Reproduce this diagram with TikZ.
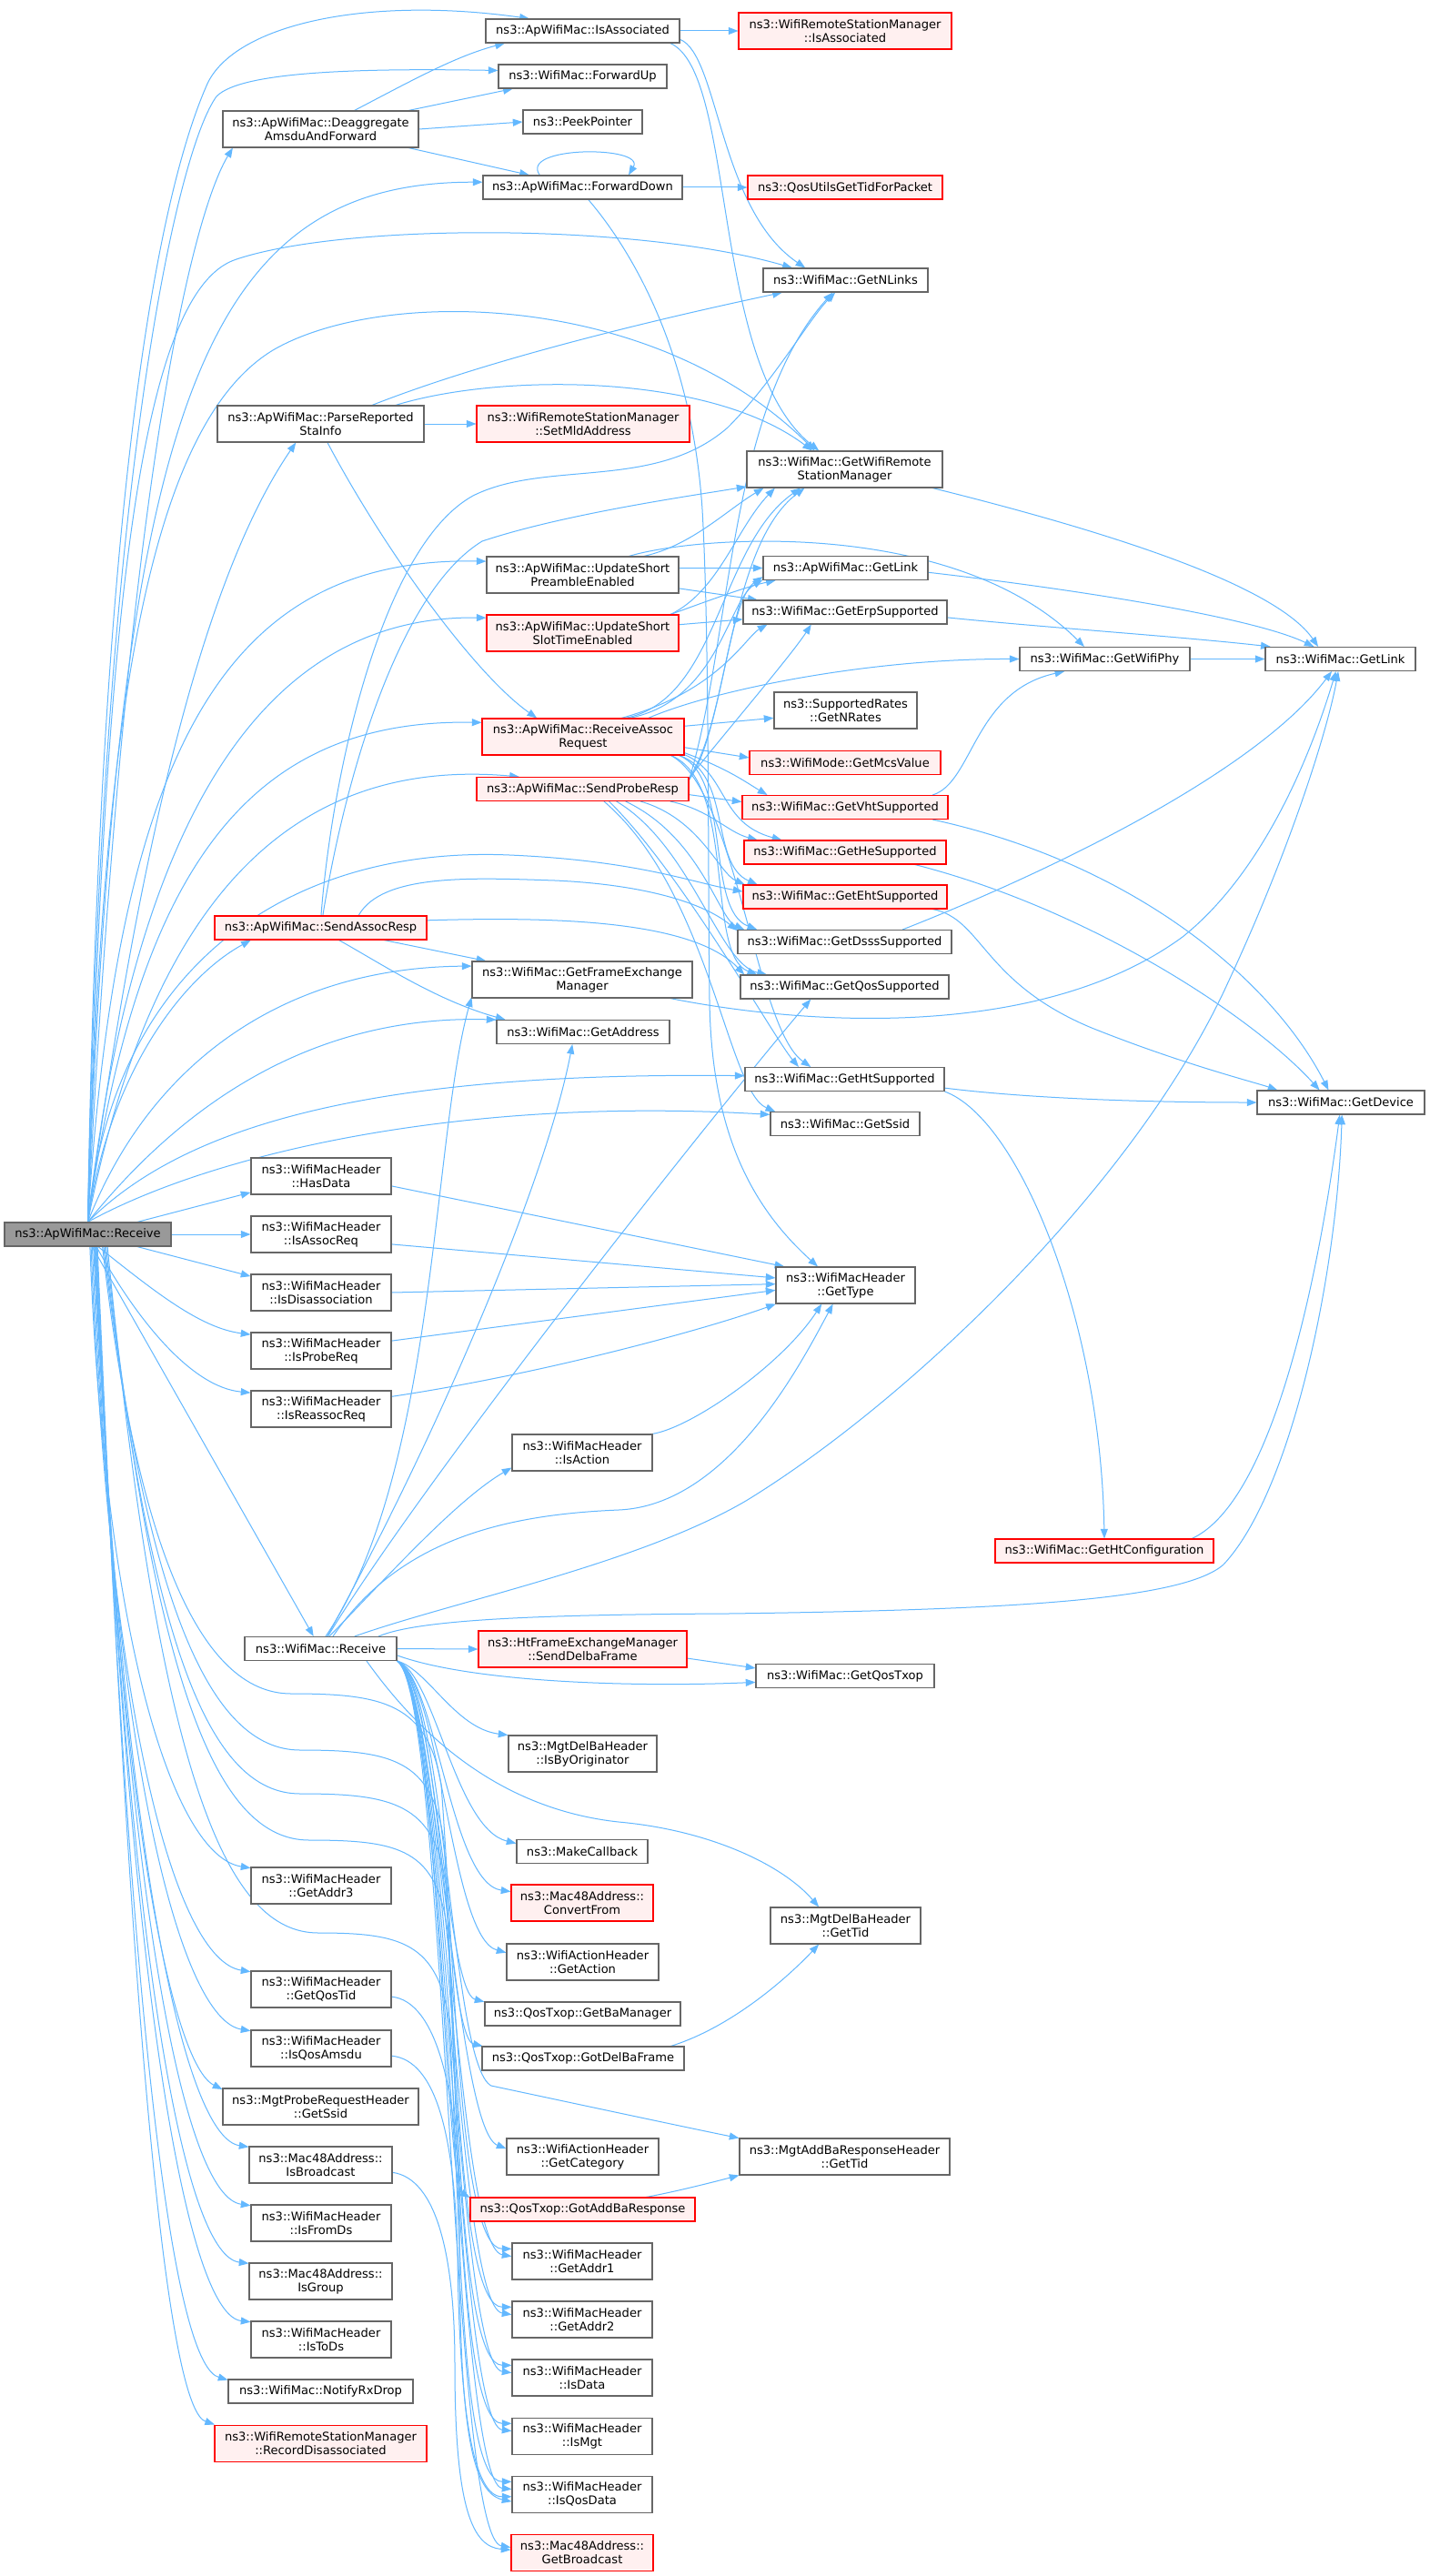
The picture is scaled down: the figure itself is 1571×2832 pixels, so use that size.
\documentclass[tikz,border=0pt]{standalone}
\usepackage{fontspec}
\newfontfamily\djv{DejaVu Sans}
\usetikzlibrary{arrows.meta}
\definecolor{edgeblue}{HTML}{63B8FF}
\definecolor{boxgray}{HTML}{666666}
\definecolor{redfill}{HTML}{FFF0F0}
\definecolor{rootgray}{HTML}{999999}
\pgfdeclarelayer{bg}
\pgfsetlayers{bg,main}
\tikzset{
  nd/.style={draw=boxgray, fill=white, line width=0.8pt, inner sep=0pt, align=center, font=\djv\fontsize{9.8}{11.3}\selectfont},
  rd/.style={nd, draw=red, fill=redfill},
  rt/.style={nd, fill=rootgray},
  sz/.style 2 args={minimum width=#1*0.75pt, minimum height=#2*0.75pt},
  edg/.style={draw=edgeblue, line width=0.75pt, -{Triangle[length=8pt,width=6pt]}},
}
\begin{document}
\begin{tikzpicture}[x=0.75pt,y=-0.75pt]
\useasboundingbox (0,0) rectangle (1571,2832);
% column A/B
\node[rt,sz={183}{26}] (R) at (96.5,1357) {ns3::ApWifiMac::Receive};
\node[nd,sz={215}{40}] (deagg) at (352.5,142) {ns3::ApWifiMac::Deaggregate\\AmsduAndForward};
\node[nd,sz={227}{40}] (parse) at (352.5,466) {ns3::ApWifiMac::ParseReported\\StaInfo};
\node[rd,sz={233}{26}] (sar) at (352.5,1020) {ns3::ApWifiMac::SendAssocResp};
\node[nd,sz={154}{40}] (hasdata) at (353,1293) {ns3::WifiMacHeader\\::HasData};
\node[nd,sz={154}{40}] (isassocreq) at (353,1357) {ns3::WifiMacHeader\\::IsAssocReq};
\node[nd,sz={154}{40}] (isdisassoc) at (353,1421) {ns3::WifiMacHeader\\::IsDisassociation};
\node[nd,sz={154}{40}] (isprobereq) at (353,1485) {ns3::WifiMacHeader\\::IsProbeReq};
\node[nd,sz={154}{40}] (isreassocreq) at (353,1549) {ns3::WifiMacHeader\\::IsReassocReq};
\node[nd,sz={167}{26}] (wr) at (352.5,1812.5) {ns3::WifiMac::Receive};
\node[nd,sz={154}{40}] (getaddr3) at (353,2073) {ns3::WifiMacHeader\\::GetAddr3};
\node[nd,sz={154}{40}] (getqostid) at (353,2187) {ns3::WifiMacHeader\\::GetQosTid};
\node[nd,sz={154}{40}] (isqosamsdu) at (353,2252) {ns3::WifiMacHeader\\::IsQosAmsdu};
\node[nd,sz={215}{40}] (mgtprobessid) at (352.5,2316) {ns3::MgtProbeRequestHeader\\::GetSsid};
\node[nd,sz={157}{40}] (isbroadcast) at (352.5,2380) {ns3::Mac48Address::\\IsBroadcast};
\node[nd,sz={154}{40}] (isfromds) at (353,2444) {ns3::WifiMacHeader\\::IsFromDs};
\node[nd,sz={157}{40}] (isgroup) at (352.5,2508) {ns3::Mac48Address::\\IsGroup};
\node[nd,sz={154}{40}] (istods) at (353,2572) {ns3::WifiMacHeader\\::IsToDs};
\node[nd,sz={203}{26}] (notifyrxdrop) at (352.5,2629) {ns3::WifiMac::NotifyRxDrop};
\node[rd,sz={233}{40}] (recorddisassoc) at (352.5,2686) {ns3::WifiRemoteStationManager\\::RecordDisassociated};
% column C
\node[nd,sz={213}{26}] (isassoc) at (640.5,34) {ns3::ApWifiMac::IsAssociated};
\node[nd,sz={185}{26}] (fwdup) at (640.5,84) {ns3::WifiMac::ForwardUp};
\node[nd,sz={131}{26}] (peek) at (640.5,134) {ns3::PeekPointer};
\node[nd,sz={219}{26}] (fwddown) at (640.5,206) {ns3::ApWifiMac::ForwardDown};
\node[rd,sz={234}{40}] (setmld) at (641,466) {ns3::WifiRemoteStationManager\\::SetMldAddress};
\node[nd,sz={211}{40}] (usp) at (640.5,632) {ns3::ApWifiMac::UpdateShort\\PreambleEnabled};
\node[rd,sz={211}{40}] (uss) at (640.5,696) {ns3::ApWifiMac::UpdateShort\\SlotTimeEnabled};
\node[rd,sz={222}{40}] (rar) at (641,810) {ns3::ApWifiMac::ReceiveAssoc\\Request};
\node[rd,sz={233}{26}] (spr) at (640.5,867.5) {ns3::ApWifiMac::SendProbeResp};
\node[nd,sz={242}{40}] (gfem) at (640,1077) {ns3::WifiMac::GetFrameExchange\\Manager};
\node[nd,sz={190}{26}] (getaddress) at (641,1134.5) {ns3::WifiMac::GetAddress};
\node[nd,sz={154}{40}] (isaction) at (640,1597) {ns3::WifiMacHeader\\::IsAction};
\node[rd,sz={229}{40}] (senddelba) at (640.5,1813) {ns3::HtFrameExchangeManager\\::SendDelbaFrame};
\node[nd,sz={163}{40}] (isbyorig) at (640.5,1928) {ns3::MgtDelBaHeader\\::IsByOriginator};
\node[nd,sz={144}{26}] (makecb) at (640,2035.5) {ns3::MakeCallback};
\node[rd,sz={156}{40}] (convertfrom) at (640,2092) {ns3::Mac48Address::\\ConvertFrom};
\node[nd,sz={167}{40}] (getaction) at (640.5,2157) {ns3::WifiActionHeader\\::GetAction};
\node[nd,sz={215}{26}] (getbaman) at (640.5,2214) {ns3::QosTxop::GetBaManager};
\node[nd,sz={222}{26}] (gotdelba) at (641,2263) {ns3::QosTxop::GotDelBaFrame};
\node[nd,sz={167}{40}] (getcategory) at (640.5,2371) {ns3::WifiActionHeader\\::GetCategory};
\node[rd,sz={247}{26}] (gotaddba) at (640.5,2429) {ns3::QosTxop::GotAddBaResponse};
\node[nd,sz={154}{40}] (getaddr1) at (640,2486) {ns3::WifiMacHeader\\::GetAddr1};
\node[nd,sz={154}{40}] (getaddr2) at (640,2550) {ns3::WifiMacHeader\\::GetAddr2};
\node[nd,sz={154}{40}] (isdata) at (640,2614) {ns3::WifiMacHeader\\::IsData};
\node[nd,sz={154}{40}] (ismgt) at (640,2678) {ns3::WifiMacHeader\\::IsMgt};
\node[nd,sz={154}{40}] (isqosdata) at (640,2742) {ns3::WifiMacHeader\\::IsQosData};
\node[rd,sz={156}{40}] (getbroadcast) at (640,2806) {ns3::Mac48Address::\\GetBroadcast};
% column D
\node[rd,sz={234}{40}] (wrsmisassoc) at (929,34) {ns3::WifiRemoteStationManager\\::IsAssociated};
\node[rd,sz={214}{26}] (qosutils) at (929,206) {ns3::QosUtilsGetTidForPacket};
\node[nd,sz={181}{26}] (getnlinks) at (929.5,308) {ns3::WifiMac::GetNLinks};
\node[nd,sz={215}{40}] (gwrsm) at (928.5,516) {ns3::WifiMac::GetWifiRemote\\StationManager};
\node[nd,sz={181}{26}] (apgetlink) at (929.5,624.5) {ns3::ApWifiMac::GetLink};
\node[nd,sz={224}{26}] (geterp) at (929,673) {ns3::WifiMac::GetErpSupported};
\node[nd,sz={157}{40}] (getnrates) at (929.5,781) {ns3::SupportedRates\\::GetNRates};
\node[rd,sz={210}{26}] (getmcs) at (929,838.5) {ns3::WifiMode::GetMcsValue};
\node[rd,sz={226}{26}] (getvht) at (929,887.5) {ns3::WifiMac::GetVhtSupported};
\node[rd,sz={222}{26}] (gethe) at (929,937) {ns3::WifiMac::GetHeSupported};
\node[rd,sz={224}{26}] (geteht) at (929,986) {ns3::WifiMac::GetEhtSupported};
\node[nd,sz={235}{26}] (getdsss) at (928.5,1035.5) {ns3::WifiMac::GetDsssSupported};
\node[nd,sz={229}{26}] (getqos) at (928.5,1085) {ns3::WifiMac::GetQosSupported};
\node[nd,sz={219}{26}] (getht) at (928.5,1186.5) {ns3::WifiMac::GetHtSupported};
\node[nd,sz={164}{26}] (getssid) at (929,1235.5) {ns3::WifiMac::GetSsid};
\node[nd,sz={153}{40}] (gettype) at (929.5,1413) {ns3::WifiMacHeader\\::GetType};
\node[nd,sz={196}{26}] (getqostxop) at (929,1842.5) {ns3::WifiMac::GetQosTxop};
\node[nd,sz={165}{40}] (delbagettid) at (929.5,2117) {ns3::MgtDelBaHeader\\::GetTid};
\node[nd,sz={231}{40}] (addbagettid) at (928.5,2371) {ns3::MgtAddBaResponseHeader\\::GetTid};
% columns E/F
\node[nd,sz={187}{26}] (getwifiphy) at (1214.5,724.5) {ns3::WifiMac::GetWifiPhy};
\node[rd,sz={240}{26}] (gethtconf) at (1214,1705) {ns3::WifiMac::GetHtConfiguration};
\node[nd,sz={165}{26}] (getlink) at (1473.5,724.5) {ns3::WifiMac::GetLink};
\node[nd,sz={184}{26}] (getdevice) at (1474,1212) {ns3::WifiMac::GetDevice};

\begin{pgfonlayer}{bg}
\fill[white] (0,0) rectangle (1571,2832);
% Deaggregate
\draw[edg] (R.north) .. controls (140,500) and (215,230) .. (deagg.-168);
\draw[edg] (deagg.29) .. controls (450,90) and (500,62) .. (isassoc.-171);
\draw[edg] (deagg.12) -- (fwdup.-170);
\draw[edg] (deagg.east) -- (peek.west);
\draw[edg] (deagg.-12) -- (fwddown.167);
% R upward
\draw[edg] (R.north) .. controls (110,500) and (180,200) .. (228,92) .. controls (258,28) and (400,-5) .. (isassoc.167);
\draw[edg] (R.north) .. controls (112,520) and (195,165) .. (238,106) .. controls (265,78) and (400,75) .. (fwdup.176);
\draw[edg] (R.north) .. controls (130,450) and (220,200) .. (fwddown.177);
\draw[edg] (R.north) .. controls (115,700) and (150,320) .. (260,285) .. controls (380,245) and (700,245) .. (getnlinks.167);
\draw[edg] (R.north) .. controls (150,950) and (220,640) .. (parse.-143);
\draw[edg] (R.north) .. controls (112,800) and (160,470) .. (300,385) .. controls (420,315) and (720,320) .. (gwrsm.148);
\draw[edg] (R.north) .. controls (130,820) and (250,612) .. (usp.172);
\draw[edg] (R.north) .. controls (150,880) and (300,676) .. (uss.171);
\draw[edg] (R.north) .. controls (150,960) and (270,790) .. (rar.172);
\draw[edg] (R.north) .. controls (160,1020) and (300,830) .. (spr.169);
\draw[edg] (R.north) .. controls (125,1050) and (330,930) .. (560,940) .. controls (700,946) and (760,970) .. (geteht.177);
\draw[edg] (R.north) .. controls (120,1180) and (200,1075) .. (sar.-170);
\draw[edg] (R.north) .. controls (160,1180) and (300,1064) .. (gfem.173);
\draw[edg] (R.north) .. controls (180,1240) and (320,1115) .. (getaddress.172);
\draw[edg] (R.north) .. controls (200,1240) and (400,1178) .. (getht.178);
\draw[edg] (R.north) .. controls (230,1270) and (500,1205) .. (getssid.173);
% R near
\draw[edg] (R.14) -- (hasdata.-167);
\draw[edg] (R.east) -- (isassocreq.west);
\draw[edg] (R.-14) -- (isdisassoc.167);
\draw[edg] (R.-50) .. controls (170,1420) and (220,1460) .. (isprobereq.167);
\draw[edg] (R.-55) .. controls (150,1450) and (210,1525) .. (isreassocreq.167);
\draw[edg] (R.-70) -- (wr.120);
% R downward
\draw[edg] (R.-80) .. controls (115,1800) and (190,2040) .. (getaddr3.166);
\draw[edg] (R.-75) .. controls (120,1900) and (195,2155) .. (getqostid.166);
\draw[edg] (R.-70) .. controls (125,1950) and (200,2220) .. (isqosamsdu.166);
\draw[edg] (R.-65) .. controls (130,2000) and (190,2270) .. (mgtprobessid.170);
\draw[edg] (R.-62) .. controls (135,2060) and (205,2350) .. (isbroadcast.166);
\draw[edg] (R.-60) .. controls (138,2120) and (205,2415) .. (isfromds.166);
\draw[edg] (R.-58) .. controls (140,2180) and (205,2480) .. (isgroup.166);
\draw[edg] (R.-56) .. controls (142,2240) and (210,2545) .. (istods.166);
\draw[edg] (R.-54) .. controls (145,2300) and (195,2600) .. (notifyrxdrop.173);
\draw[edg] (R.-52) .. controls (148,2350) and (190,2650) .. (recorddisassoc.170);
% R loops into the bundle
\draw[edg] (R.-40) .. controls (150,1700) and (220,1862) .. (320,1862) .. controls (420,1862) and (470,1872) .. (485,1962) .. controls (500,2162) and (505,2472) .. (getaddr1.170);
\draw[edg] (R.-38) .. controls (160,1760) and (230,1924) .. (330,1924) .. controls (430,1924) and (475,1934) .. (488,2024) .. controls (500,2224) and (505,2536) .. (getaddr2.170);
\draw[edg] (R.-36) .. controls (165,1810) and (230,1972) .. (330,1972) .. controls (430,1972) and (478,1982) .. (490,2072) .. controls (502,2272) and (505,2600) .. (isdata.170);
\draw[edg] (R.-34) .. controls (170,1860) and (240,2023) .. (340,2023) .. controls (440,2023) and (480,2033) .. (492,2123) .. controls (504,2323) and (505,2664) .. (ismgt.170);
\draw[edg] (R.-32) .. controls (175,1960) and (250,2125) .. (350,2125) .. controls (440,2125) and (482,2135) .. (494,2225) .. controls (506,2425) and (505,2728) .. (isqosdata.170);
% WifiMac::Receive
\draw[edg] (wr.east) -- (senddelba.west);
\draw[edg] (wr.-5) .. controls (520,1850) and (700,1855) .. (getqostxop.-176);
\draw[edg] (senddelba.-5) -- (getqostxop.175);
\draw[edg] (wr.55) .. controls (420,1740) and (500,1650) .. (isaction.-168);
\draw[edg] (isaction.15) .. controls (760,1570) and (860,1500) .. (gettype.-142);
\draw[edg] (wr.45) .. controls (440,1690) and (560,1665) .. (680,1660) .. controls (800,1655) and (880,1500) .. (gettype.-124);
\draw[edg] (wr.68) .. controls (480,1620) and (475,1250) .. (gfem.-171);
\draw[edg] (wr.62) .. controls (480,1580) and (600,1300) .. (getaddress.-131);
\draw[edg] (wr.60) .. controls (470,1620) and (780,1230) .. (getqos.-160);
\draw[edg] (wr.20) .. controls (500,1760) and (700,1720) .. (820,1650) .. controls (1000,1540) and (1250,1300) .. (1350,1080) .. controls (1420,930) and (1460,800) .. (getlink.-100);
\draw[edg] (wr.12) .. controls (460,1780) and (600,1775) .. (800,1774) .. controls (1100,1770) and (1300,1760) .. (1345,1720) .. controls (1420,1640) and (1470,1400) .. (getdevice.-85);
\draw[edg] (wr.south east) .. controls (470,1835) and (500,1900) .. (isbyorig.166);
\draw[edg] (wr.south east) .. controls (478,1840) and (500,2010) .. (makecb.173);
\draw[edg] (wr.south east) .. controls (480,1845) and (495,2070) .. (convertfrom.171);
\draw[edg] (wr.south east) .. controls (485,1850) and (495,2130) .. (getaction.173);
\draw[edg] (wr.south east) .. controls (480,1850) and (490,2190) .. (getbaman.173);
\draw[edg] (wr.south east) .. controls (485,1850) and (490,2240) .. (gotdelba.173);
\draw[edg] (wr.south east) .. controls (480,1850) and (500,2340) .. (getcategory.174);
\draw[edg] (wr.south east) .. controls (480,1850) and (490,2400) .. (gotaddba.174);
\draw[edg] (wr.south east) .. controls (490,1850) and (495,2270) .. (540,2293) .. controls (620,2310) and (760,2340) .. (addbagettid.170);
\draw[edg] (wr.-15) .. controls (470,1920) and (560,1990) .. (680,2003) .. controls (780,2012) and (860,2050) .. (delbagettid.145);
\draw[edg] (wr.south east) .. controls (490,1860) and (500,2470) .. (getaddr1.176);
\draw[edg] (wr.south east) .. controls (490,1860) and (500,2535) .. (getaddr2.176);
\draw[edg] (wr.south east) .. controls (490,1860) and (500,2600) .. (isdata.176);
\draw[edg] (wr.south east) .. controls (490,1860) and (500,2665) .. (ismgt.176);
\draw[edg] (wr.south east) .. controls (490,1860) and (500,2730) .. (isqosdata.176);
\draw[edg] (wr.south east) .. controls (490,1860) and (495,2790) .. (getbroadcast.176);
\draw[edg] (gotdelba.8) .. controls (800,2230) and (860,2180) .. (delbagettid.-145);
\draw[edg] (gotaddba.11) .. controls (740,2410) and (780,2400) .. (addbagettid.-170);
% header predicates -> GetType
\draw[edg] (hasdata.-8) -- (gettype.163);
\draw[edg] (isassocreq.-8) -- (gettype.174);
\draw[edg] (isdisassoc.east) -- (gettype.179);
\draw[edg] (isprobereq.8) -- (gettype.-176);
\draw[edg] (isreassocreq.10) .. controls (600,1510) and (780,1460) .. (gettype.-165);
\draw[edg] (getqostid.-6) .. controls (480,2200) and (505,2300) .. (505,2450) .. controls (505,2650) and (515,2740) .. (isqosdata.-174);
\draw[edg] (isqosamsdu.-6) .. controls (480,2265) and (500,2350) .. (503,2480) .. controls (505,2650) and (520,2745) .. (isqosdata.-178);
\draw[edg] (isbroadcast.-6) .. controls (480,2395) and (500,2480) .. (500,2600) .. controls (500,2760) and (520,2800) .. (getbroadcast.178);
% ParseReportedStaInfo
\draw[edg] (parse.east) -- (setmld.west);
\draw[edg] (parse.20) .. controls (550,390) and (750,345) .. (getnlinks.-169);
\draw[edg] (parse.14) .. controls (550,410) and (780,410) .. (gwrsm.150);
\draw[edg] (parse.-70) .. controls (420,600) and (520,740) .. (rar.158);
% IsAssociated
\draw[edg] (isassoc.east) -- (wrsmisassoc.west);
\draw[edg] (isassoc.-5) .. controls (790,60) and (790,230) .. (getnlinks.163);
\draw[edg] (isassoc.-8) .. controls (810,80) and (780,400) .. (gwrsm.144);
% ForwardDown
\draw[edg] (fwddown.164) .. controls (570,160) and (710,160) .. (fwddown.15);
\draw[edg] (fwddown.east) -- (qosutils.west);
\draw[edg] (fwddown.-65) .. controls (690,270) and (760,380) .. (772,560) .. controls (780,700) and (778,950) .. (780,1100) .. controls (782,1250) and (830,1330) .. (gettype.146);
% UpdateShortPreambleEnabled
\draw[edg] (usp.17) .. controls (760,600) and (800,560) .. (gwrsm.-167);
\draw[edg] (usp.22) .. controls (770,588) and (1050,570) .. (getwifiphy.149);
\draw[edg] (usp.4) -- (apgetlink.west);
\draw[edg] (usp.-8) -- (geterp.172);
% UpdateShortSlotTimeEnabled
\draw[edg] (uss.12) .. controls (790,650) and (810,580) .. (gwrsm.-165);
\draw[edg] (uss.12) .. controls (780,660) and (820,645) .. (apgetlink.-170);
\draw[edg] (uss.5) -- (geterp.-176);
% ReceiveAssocRequest
\draw[edg] (rar.24) .. controls (790,770) and (790,600) .. (gwrsm.-157);
\draw[edg] (rar.22) .. controls (790,770) and (800,660) .. (apgetlink.-172);
\draw[edg] (rar.26) .. controls (790,760) and (820,700) .. (geterp.-171);
\draw[edg] (rar.16) .. controls (780,760) and (950,724) .. (getwifiphy.west);
\draw[edg] (rar.6) -- (getnrates.-174);
\draw[edg] (rar.-6) -- (getmcs.177);
\draw[edg] (rar.-9) .. controls (800,845) and (820,860) .. (getvht.171);
\draw[edg] (rar.-10) .. controls (800,850) and (790,905) .. (gethe.169);
\draw[edg] (rar.-11) .. controls (805,850) and (780,950) .. (geteht.172);
\draw[edg] (rar.-11) .. controls (805,855) and (775,1000) .. (getdsss.172);
\draw[edg] (rar.-12) .. controls (810,860) and (775,1050) .. (getqos.172);
\draw[edg] (rar.-12) .. controls (810,870) and (830,1130) .. (getht.160);
% SendProbeResp
\draw[edg] (spr.5) .. controls (800,800) and (800,600) .. (gwrsm.-155);
\draw[edg] (spr.6) .. controls (795,800) and (800,660) .. (apgetlink.-174);
\draw[edg] (spr.6) .. controls (810,790) and (870,720) .. (geterp.-160);
\draw[edg] (spr.5) .. controls (805,700) and (800,450) .. (getnlinks.-136);
\draw[edg] (spr.-3) -- (getvht.177);
\draw[edg] (spr.-8) .. controls (780,890) and (800,915) .. (gethe.172);
\draw[edg] (spr.-12) .. controls (770,900) and (790,960) .. (geteht.173);
\draw[edg] (spr.-16) .. controls (770,920) and (790,1010) .. (getdsss.173);
\draw[edg] (spr.-20) .. controls (760,930) and (790,1060) .. (getqos.171);
\draw[edg] (spr.-25) .. controls (750,960) and (850,1140) .. (getht.165);
\draw[edg] (spr.-30) .. controls (780,980) and (800,1200) .. (getssid.170);
% SendAssocResp
\draw[edg] (sar.88) .. controls (365,850) and (420,600) .. (520,545) .. controls (600,505) and (720,540) .. (800,470) .. controls (850,420) and (890,350) .. (getnlinks.-130);
\draw[edg] (sar.80) .. controls (380,850) and (440,650) .. (530,595) .. controls (620,565) and (760,545) .. (gwrsm.-170);
\draw[edg] (sar.-11) -- (gfem.169);
\draw[edg] (sar.-34) .. controls (420,1060) and (480,1100) .. (getaddress.171);
\draw[edg] (sar.4) .. controls (600,1008) and (760,1010) .. (getqos.173);
\draw[edg] (sar.18) .. controls (420,960) and (520,965) .. (610,968) .. controls (700,972) and (770,990) .. (getdsss.174);
% right side
\draw[edg] (gfem.-12) .. controls (900,1130) and (1150,1140) .. (1300,1030) .. controls (1400,950) and (1450,800) .. (getlink.-110);
\draw[edg] (getdsss.12) .. controls (1150,960) and (1380,850) .. (getlink.-125);
\draw[edg] (gwrsm.-12) .. controls (1200,580) and (1400,640) .. (getlink.151);
\draw[edg] (apgetlink.-3) .. controls (1200,650) and (1380,680) .. (getlink.155);
\draw[edg] (geterp.-3) .. controls (1150,690) and (1300,700) .. (getlink.170);
\draw[edg] (getwifiphy.east) -- (getlink.west);
\draw[edg] (getvht.8) .. controls (1070,860) and (1070,760) .. (getwifiphy.-163);
\draw[edg] (getvht.-8) .. controls (1250,950) and (1400,1080) .. (getdevice.135);
\draw[edg] (gethe.-10) .. controls (1200,1000) and (1380,1120) .. (getdevice.150);
\draw[edg] (geteht.-8) .. controls (1080,1010) and (1080,1080) .. (1200,1130) .. controls (1300,1170) and (1380,1190) .. (getdevice.169);
\draw[edg] (getht.-5) .. controls (1150,1210) and (1300,1212) .. (getdevice.west);
\draw[edg] (getht.-7) .. controls (1120,1230) and (1210,1450) .. (gethtconf.north);
\draw[edg] (gethtconf.8) .. controls (1400,1650) and (1450,1400) .. (getdevice.-95);
\end{pgfonlayer}
\end{tikzpicture}
\end{document}
